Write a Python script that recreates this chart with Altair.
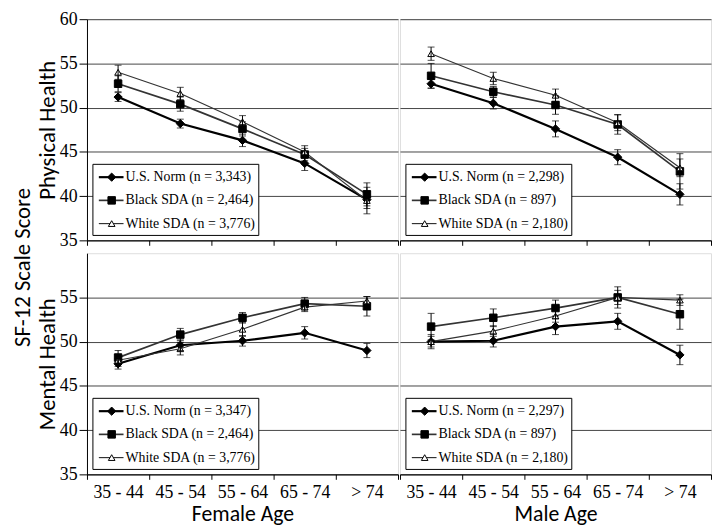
import altair as alt
import pandas as pd

ages = ["35 - 44", "45 - 54", "55 - 64", "65 - 74", "> 74"]
series = ["U.S. Norm", "Black SDA", "White SDA"]

# Female, Physical Health
fp_us = [51.2, 48.2, 46.3, 43.7, 39.6]
fp_black = [52.7, 50.4, 47.6, 44.7, 40.2]
fp_white = [54.0, 51.6, 48.4, 45.0, 39.5]
fp_us_err = [0.5, 0.5, 0.7, 0.8, 1.0]
fp_black_err = [0.9, 0.8, 0.8, 0.7, 1.3]
fp_white_err = [0.8, 0.7, 0.7, 0.7, 1.5]

# Male, Physical Health
mp_us = [52.7, 50.5, 47.6, 44.4, 40.2]
mp_black = [53.6, 51.8, 50.3, 48.1, 42.8]
mp_white = [56.1, 53.3, 51.4, 48.3, 43.2]
mp_us_err = [0.5, 0.65, 0.9, 0.85, 1.2]
mp_black_err = [1.4, 0.6, 1.05, 1.1, 2.0]
mp_white_err = [0.75, 0.7, 0.7, 0.9, 1.0]

# Female, Mental Health
fm_us = [47.5, 49.6, 50.1, 51.0, 49.0]
fm_black = [48.2, 50.8, 52.7, 54.3, 54.0]
fm_white = [47.9, 49.2, 51.4, 53.9, 54.6]
fm_us_err = [0.6, 0.6, 0.6, 0.7, 0.8]
fm_black_err = [0.8, 0.7, 0.6, 0.7, 1.1]
fm_white_err = [0.7, 0.7, 0.8, 0.5, 0.5]

# Male, Mental Health
mm_us = [50.0, 50.1, 51.7, 52.3, 48.5]
mm_black = [51.7, 52.7, 53.8, 55.0, 53.1]
mm_white = [50.0, 51.2, 52.9, 55.0, 54.7]
mm_us_err = [0.8, 0.7, 0.9, 0.9, 1.1]
mm_black_err = [1.5, 1.0, 0.9, 1.2, 1.7]
mm_white_err = [0.6, 0.6, 0.7, 0.8, 0.6]

fp_labels = ["U.S. Norm (n = 3,343)", "Black SDA (n = 2,464)", "White SDA (n = 3,776)"]
mp_labels = ["U.S. Norm (n = 2,298)", "Black SDA (n = 897)", "White SDA (n = 2,180)"]
fm_labels = ["U.S. Norm (n = 3,347)", "Black SDA (n = 2,464)", "White SDA (n = 3,776)"]
mm_labels = ["U.S. Norm (n = 2,297)", "Black SDA (n = 897)", "White SDA (n = 2,180)"]

SERIF = "Liberation Serif"
SANS = "Carlito"
W, H = 315, 224


def make_df(vals, errs):
    rows = []
    for s, v, e in zip(series, vals, errs):
        for a, vv, ee in zip(ages, v, e):
            rows.append(dict(age=a, series=s, value=vv, lo=vv - ee, hi=vv + ee))
    return pd.DataFrame(rows)


color_sc = alt.Scale(domain=series, range=["black", "#333333", "#333333"])
width_sc = alt.Scale(domain=series, range=[2.2, 1.2, 1.2])
shape_sc = alt.Scale(domain=series, range=["diamond", "square", "triangle-up"])
fill_sc = alt.Scale(domain=series, range=["black", "black", "white"])
size_sc = alt.Scale(domain=series, range=[70, 45, 40])


def panel(df, labels, left, top, ytitle=None, xtitle=None):
    yvals = [35, 40, 45, 50, 55, 60] if top else [35, 40, 45, 50, 55]
    if left:
        yaxis = alt.Axis(values=yvals, title=ytitle, grid=True, gridColor="#444444",
                         tickSize=8, tickColor="black", domainColor="black",
                         labelFont=SERIF, labelFontSize=18, labelColor="black",
                         labelPadding=2, titleFont=SANS, titleFontSize=23,
                         titleFontWeight="normal", titleColor="black", titlePadding=0)
    else:
        yaxis = alt.Axis(values=yvals, title=None, grid=True, gridColor="#444444",
                         labels=False, ticks=False, domain=False)
    xaxis = alt.Axis(title=xtitle, labels=not top, ticks=True, tickBand="extent",
                     tickSize=5, tickColor="black", domainColor="black",
                     labelAngle=0, labelFont=SERIF, labelFontSize=18,
                     labelColor="black", labelPadding=4,
                     titleFont=SANS, titleFontSize=22, titleFontWeight="normal",
                     titleColor="black", titlePadding=3)
    xs = alt.Scale(type="band", domain=ages, paddingInner=0, paddingOuter=0)
    ys = alt.Scale(domain=[35, 60], nice=False, zero=False)
    x = alt.X("age:N", sort=ages, scale=xs, axis=xaxis)

    def y(field):
        return alt.Y(f"{field}:Q", scale=ys, axis=yaxis)

    base = alt.Chart(df)
    lines = base.mark_line().encode(
        x=x, y=y("value"), detail="series:N",
        color=alt.Color("series:N", scale=color_sc, legend=None),
        strokeWidth=alt.StrokeWidth("series:N", scale=width_sc, legend=None),
    )
    pts = base.mark_point(filled=True, stroke="black", strokeWidth=1, opacity=1).encode(
        x=x, y=y("value"),
        shape=alt.Shape("series:N", scale=shape_sc, legend=None),
        fill=alt.Fill("series:N", scale=fill_sc, legend=None),
        size=alt.Size("series:N", scale=size_sc, legend=None),
    )
    bars = base.mark_rule(color="black", strokeWidth=1).encode(x=x, y=y("lo"), y2="hi:Q")
    cap_lo = base.mark_tick(color="black", thickness=1, size=7, orient="horizontal").encode(x=x, y=y("lo"))
    cap_hi = base.mark_tick(color="black", thickness=1, size=7, orient="horizontal").encode(x=x, y=y("hi"))

    leg_df = pd.DataFrame({"series": series, "label": labels, "row": [0, 1, 2]})
    leg = alt.Chart(leg_df).transform_calculate(ly="160 + 23.5 * datum.row")
    ly = alt.Y("ly:Q", scale=None, axis=None)
    box = alt.Chart(pd.DataFrame({"a": [0]})).mark_rect(
        fill="white", stroke="black", strokeWidth=1).encode(
        x=alt.value(6), x2=alt.value(174), y=alt.value(147), y2=alt.value(219))
    leg_line = leg.mark_rule().encode(
        x=alt.value(12), x2=alt.value(37), y=ly,
        color=alt.Color("series:N", scale=color_sc, legend=None),
        strokeWidth=alt.StrokeWidth("series:N", scale=width_sc, legend=None))
    leg_pts = leg.mark_point(filled=True, stroke="black", strokeWidth=1, opacity=1).encode(
        x=alt.value(25), y=ly,
        shape=alt.Shape("series:N", scale=shape_sc, legend=None),
        fill=alt.Fill("series:N", scale=fill_sc, legend=None),
        size=alt.Size("series:N", scale=size_sc, legend=None))
    leg_txt = leg.mark_text(align="left", baseline="middle", font=SERIF, fontSize=14,
                            color="black").encode(x=alt.value(39), y=ly, text="label:N")

    return alt.layer(lines, pts, bars, cap_lo, cap_hi, box, leg_line, leg_pts, leg_txt).properties(
        width=W, height=H)


p1 = panel(make_df([fp_us, fp_black, fp_white], [fp_us_err, fp_black_err, fp_white_err]),
           fp_labels, True, True, ytitle="Physical Health")
p2 = panel(make_df([mp_us, mp_black, mp_white], [mp_us_err, mp_black_err, mp_white_err]),
           mp_labels, False, True)
p3 = panel(make_df([fm_us, fm_black, fm_white], [fm_us_err, fm_black_err, fm_white_err]),
           fm_labels, True, False, ytitle="Mental Health", xtitle="Female Age")
p4 = panel(make_df([mm_us, mm_black, mm_white], [mm_us_err, mm_black_err, mm_white_err]),
           mm_labels, False, False, xtitle="Male Age")

chart = alt.vconcat(
    alt.hconcat(p1, p2, spacing=0),
    alt.hconcat(p3, p4, spacing=0),
    spacing=2,
    title=alt.TitleParams("SF-12 Scale Score", orient="left", anchor="middle", font=SANS,
                          fontSize=23, fontWeight="normal", color="black", offset=1),
).properties(
    padding={"left": 4, "top": -2, "right": 0, "bottom": 0}
).configure_view(stroke="#777777", strokeWidth=1).configure(background="white")

chart.save("out.html", embed_options={"renderer": "svg", "actions": False})
